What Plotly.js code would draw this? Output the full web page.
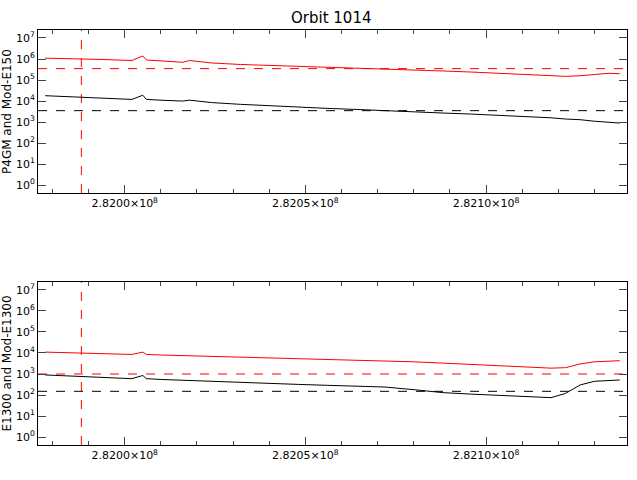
<!DOCTYPE html>
<html>
<head>
<meta charset="utf-8">
<script src="https://cdn.plot.ly/plotly-3.0.1.min.js"></script>
<style>body{margin:0;background:#fff}</style>
</head>
<body>
<div id="chart" style="width:637px;height:480px"></div>
<script>
// sample times (seconds)
var times = [281978e3, 281986e3, 281994e3, 282002e3, 282005e3, 282006e3, 282010e3, 282016e3, 282018e3, 282024e3,
  282032e3, 282040e3, 282048e3, 282056e3, 282064e3, 282072e3, 282080e3, 282088e3, 282096e3, 282104e3,
  282112e3, 282118e3, 282122e3, 282126e3, 282130e3, 282134e3, 282137e3];
var modE150 = [1.1e6, 1.05e6, 9.5e5, 8.5e5, 1.4e6, 9e5, 8e5, 7e5, 8.5e5, 6.5e5, 5.5e5, 5e5, 4.5e5, 4.2e5, 3.8e5,
  3.4e5, 3e5, 2.7e5, 2.4e5, 2.1e5, 1.8e5, 1.6e5, 1.5e5, 1.6e5, 1.9e5, 2.1e5, 2.0e5];
var p4gm = [1.8e4, 1.6e4, 1.4e4, 1.2e4, 1.9e4, 1.2e4, 1.1e4, 1e4, 1.1e4, 8.5e3, 7e3, 6e3, 5e3, 4.5e3, 4e3,
  3.6e3, 3.1e3, 2.7e3, 2.4e3, 2.1e3, 1.8e3, 1.6e3, 1.4e3, 1.3e3, 1.1e3, 9.5e2, 9e2];
var modE1300 = [1.1e4, 1e4, 9e3, 8.5e3, 1.1e4, 8.5e3, 8e3, 7.5e3, 7.8e3, 7e3, 6.5e3, 6e3, 5.5e3, 5e3, 4.8e3,
  4.3e3, 3.8e3, 3.3e3, 2.9e3, 2.5e3, 2.1e3, 1.9e3, 2e3, 3e3, 3.8e3, 4.2e3, 4.3e3];
var e1300 = [9e2, 8e2, 7e2, 6e2, 8.5e2, 6e2, 5.5e2, 5e2, 5.2e2, 4.5e2, 4e2, 3.6e2, 3.2e2, 2.9e2, 2.7e2,
  2.4e2, 1.8e2, 1.3e2, 1.1e2, 9.5e1, 8e1, 7.5e1, 1.2e2, 3e2, 4.5e2, 5e2, 5.2e2];
var levelsTop = [3.5e5, 3.5e3];
var levelsBot = [1e3, 1.5e2];
var startTime = 281988e3;
var xTickVals = [282000e3, 282050e3, 282100e3];
var xTickText = ['2.8200×10<sup>8</sup>', '2.8205×10<sup>8</sup>', '2.8210×10<sup>8</sup>'];
var yTickVals = [1, 10, 100, 1e3, 1e4, 1e5, 1e6, 1e7];
var yTickText = ['10<sup>0</sup>', '10<sup>1</sup>', '10<sup>2</sup>', '10<sup>3</sup>', '10<sup>4</sup>', '10<sup>5</sup>', '10<sup>6</sup>', '10<sup>7</sup>'];

var xr = [281976e3, 282139e3];
var yr = [0.42, 2.4e7];
function line(x, y, color, ax, dash) {
  return {x: x, y: y, mode: 'lines', xaxis: ax[0], yaxis: ax[1], hoverinfo: 'none',
    line: {color: color, width: 1, dash: dash || 'solid'}};
}
var traces = [];
[['x', 'y'], ['x2', 'y2']].forEach(function (ax, i) {
  var lv = i === 0 ? levelsTop : levelsBot;
  traces.push(line(xr, [lv[0], lv[0]], 'red', ax, 'dash'));
  traces.push(line(xr, [lv[1], lv[1]], 'black', ax, 'dash'));
  traces.push(line([startTime, startTime], yr, 'red', ax, 'dash'));
});
traces.push(line(times, modE150, 'red', ['x', 'y']));
traces.push(line(times, p4gm, 'black', ['x', 'y']));
traces.push(line(times, modE1300, 'red', ['x2', 'y2']));
traces.push(line(times, e1300, 'black', ['x2', 'y2']));

function xaxis(anchor) {
  return {anchor: anchor, range: xr, tickvals: xTickVals, ticktext: xTickText, ticks: 'inside', ticklen: 8,
    showline: true, mirror: 'ticks', linecolor: 'black', showgrid: false, zeroline: false,
    minor: {dtick: 10000, ticks: 'inside', ticklen: 4, showgrid: false}};
}
function yaxis(anchor, dom, title) {
  return {anchor: anchor, domain: dom, type: 'log', range: [Math.log10(yr[0]), Math.log10(yr[1])],
    tickvals: yTickVals, ticktext: yTickText, ticks: 'inside', ticklen: 8, showline: true, mirror: 'ticks',
    linecolor: 'black', showgrid: false, zeroline: false, tickfont: {size: 11},
    title: {text: title, standoff: 2, font: {size: 12}}};
}
var layout = {
  width: 637, height: 480, showlegend: false,
  paper_bgcolor: 'white', plot_bgcolor: 'white',
  margin: {l: 38, r: 10, t: 30, b: 35},
  font: {family: 'DejaVu Sans', size: 11, color: 'black'},
  title: {text: 'Orbit 1014', x: 0.52, y: 0.975, font: {size: 15}},
  xaxis: xaxis('y'), yaxis: yaxis('x', [0.607, 1], 'P4GM and Mod-E150'),
  xaxis2: xaxis('y2'), yaxis2: yaxis('x2', [0, 0.393], 'E1300 and Mod-E1300')
};
Plotly.newPlot('chart', traces, layout, {staticPlot: true});
</script>
</body>
</html>
